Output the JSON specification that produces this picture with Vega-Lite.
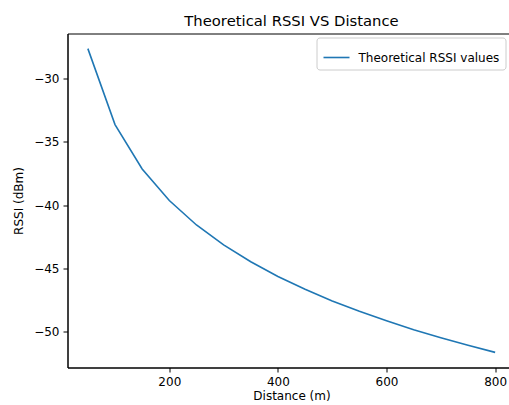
{
  "$schema": "https://vega.github.io/schema/vega-lite/v6.json",
  "autosize": {"type": "none"},
  "padding": {"left": 67.5, "top": 33.5, "right": 0, "bottom": 37.5},
  "width": 448,
  "height": 334,
  "background": "white",
  "title": {"text": "Theoretical RSSI VS Distance", "font": "DejaVu Sans", "fontSize": 14.8, "fontWeight": "normal", "color": "#000", "offset": -7, "baseline": "alphabetic", "frame": "group"},
  "view": {"stroke": "black", "strokeWidth": 1, "fill": "white"},
  "config": {
    "axis": {"grid": false, "domain": true, "ticks": true, "domainColor": "black", "domainWidth": 1, "tickColor": "black", "tickWidth": 1, "tickSize": 4.5, "labelFont": "DejaVu Sans", "labelFontSize": 12, "labelColor": "#000", "titleFont": "DejaVu Sans", "titleFontSize": 12, "titleFontWeight": "normal", "titleColor": "#000", "labelPadding": 4}
  },
  "data": {"values": [
    {"distance": 50, "rssi": -27.6, "series": "Theoretical RSSI values"},
    {"distance": 100, "rssi": -33.62, "series": "Theoretical RSSI values"},
    {"distance": 150, "rssi": -37.14, "series": "Theoretical RSSI values"},
    {"distance": 200, "rssi": -39.64, "series": "Theoretical RSSI values"},
    {"distance": 250, "rssi": -41.58, "series": "Theoretical RSSI values"},
    {"distance": 300, "rssi": -43.16, "series": "Theoretical RSSI values"},
    {"distance": 350, "rssi": -44.5, "series": "Theoretical RSSI values"},
    {"distance": 400, "rssi": -45.66, "series": "Theoretical RSSI values"},
    {"distance": 450, "rssi": -46.68, "series": "Theoretical RSSI values"},
    {"distance": 500, "rssi": -47.6, "series": "Theoretical RSSI values"},
    {"distance": 550, "rssi": -48.43, "series": "Theoretical RSSI values"},
    {"distance": 600, "rssi": -49.18, "series": "Theoretical RSSI values"},
    {"distance": 650, "rssi": -49.88, "series": "Theoretical RSSI values"},
    {"distance": 700, "rssi": -50.52, "series": "Theoretical RSSI values"},
    {"distance": 750, "rssi": -51.12, "series": "Theoretical RSSI values"},
    {"distance": 800, "rssi": -51.68, "series": "Theoretical RSSI values"}
  ]},
  "mark": {"type": "line", "strokeWidth": 1.6},
  "encoding": {
    "x": {"field": "distance", "type": "quantitative", "title": "Distance (m)",
      "scale": {"domain": [12.5, 837.5], "nice": false, "zero": false},
      "axis": {"values": [200, 400, 600, 800], "titlePadding": 3}},
    "y": {"field": "rssi", "type": "quantitative", "title": "RSSI (dBm)",
      "scale": {"domain": [-52.88, -26.4], "nice": false, "zero": false},
      "axis": {"values": [-50, -45, -40, -35, -30], "titlePadding": 8}},
    "color": {"field": "series", "type": "nominal", "title": null,
      "scale": {"range": ["#1f77b4"]},
      "legend": {"orient": "none", "legendX": 249, "legendY": 4, "symbolType": "stroke", "symbolSize": 676, "symbolStrokeWidth": 1.6, "labelFont": "DejaVu Sans", "labelFontSize": 12, "labelColor": "#000", "padding": 6, "strokeColor": "#ccc", "fillColor": "white", "cornerRadius": 3, "labelOffset": 8, "symbolOffset": 0}}
  }
}
